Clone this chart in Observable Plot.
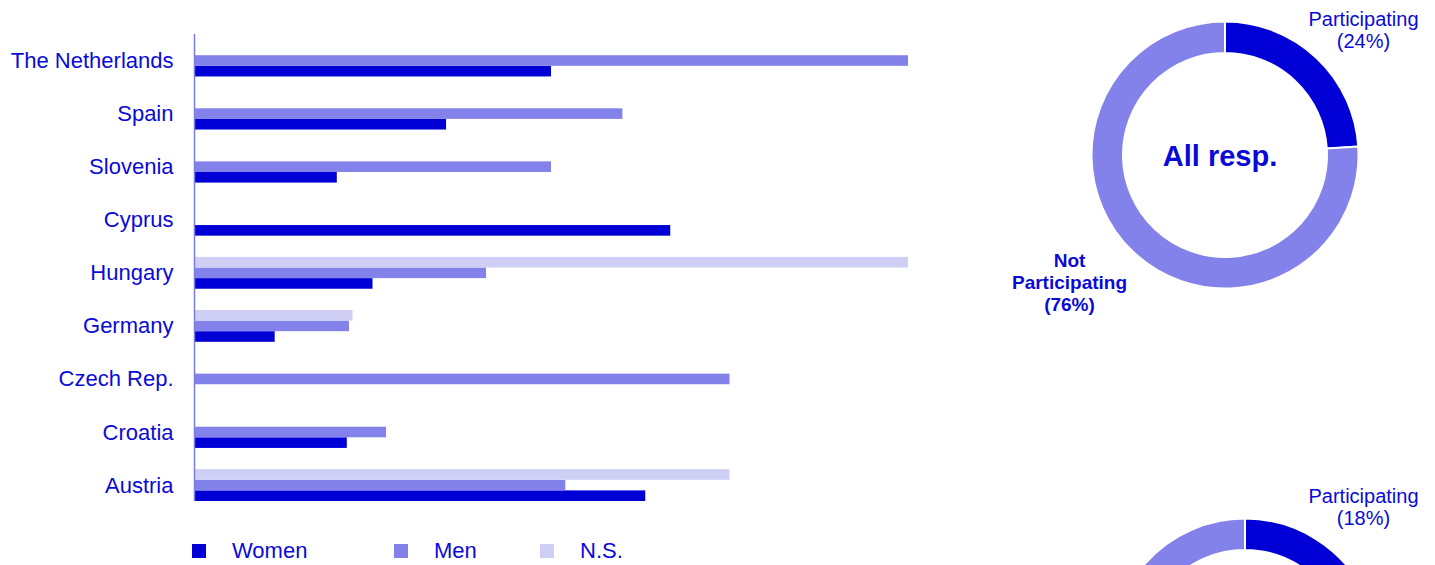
<!DOCTYPE html>
<html><head><meta charset="utf-8">
<script src="https://cdn.jsdelivr.net/npm/d3@7"></script>
<script src="https://cdn.jsdelivr.net/npm/@observablehq/plot@0.6"></script>
<style>
html,body{margin:0;padding:0;background:#fff;}
#wrap{position:relative;width:1435px;height:565px;overflow:hidden;font-family:"Liberation Sans",Arial,sans-serif;color:#0a0ad8;}
#bars{position:absolute;left:0;top:0;}
#donuts{position:absolute;left:990px;top:0;}
#legend{position:absolute;left:192px;top:538px;display:flex;font-size:22px;line-height:26px;}
.item{display:flex;align-items:center;}
.sw{width:14px;height:14px;margin-right:26px;flex:none;}
</style></head>
<body><div id="wrap"><div id="bars"></div><div id="donuts"></div><div id="legend"></div></div>
<script>
// ---- data ----
const countries = ["The Netherlands","Spain","Slovenia","Cyprus","Hungary","Germany","Czech Rep.","Croatia","Austria"];
const women = [50, 35.3, 20, 66.7, 25, 11.3, 0, 21.4, 63.2];
const men   = [100, 60, 50, 0, 40.9, 21.7, 75, 26.9, 52];
const ns    = [0, 0, 0, 0, 100, 22.2, 0, 0, 75];
const seriesNames = ["Women", "Men", "N.S."];
const seriesColors = ["#0000d6", "#8282ea", "#cfcff6"];

const donutTitles = ["All resp.", ""];
const participatingPct = [24, 18];
const sliceNames = ["Participating", "Not Participating"];

// ---- build rows ----
const seriesValues = {"Women": women, "Men": men, "N.S.": ns};
const rows = countries.flatMap((c, i) => seriesNames.map(s => ({country: c, series: s, value: seriesValues[s][i]})))
  .filter(d => d.value > 0);
const key = (c, s) => c + "|" + s;
const yDomain = countries.flatMap(c => [key(c, "_a"), key(c, "N.S."), key(c, "Men"), key(c, "Women"), key(c, "_b")]).slice(0, -1);

const textColor = "#0a0ad8";

const bars = Plot.plot({
  width: 960, height: 530,
  marginLeft: 194, marginRight: 52, marginTop: 34, marginBottom: 29,
  style: {fontFamily: "'Liberation Sans', Arial, sans-serif", fontSize: "22px", color: textColor, background: "transparent"},
  x: {domain: [0, 100], axis: null},
  y: {domain: yDomain, padding: 0, round: false, axis: "left", ticks: countries.map(c => key(c, "Men")),
      tickFormat: k => k.endsWith("|Men") ? k.split("|")[0] : "", tickSize: 0, tickPadding: 21, label: null},
  color: {domain: seriesNames, range: seriesColors},
  marks: [
    Plot.barX(rows, {x: "value", y: d => key(d.country, d.series), fill: "series"}),
    Plot.ruleX([0], {stroke: "#7c7ce8", strokeWidth: 1.5})
  ]
});
document.getElementById("bars").appendChild(bars);

// ---- legend ----
const legend = document.getElementById("legend");
const itemWidths = [202, 146, null];
seriesNames.forEach((s, i) => {
  const it = document.createElement("div");
  it.className = "item";
  if (itemWidths[i]) it.style.width = itemWidths[i] + "px";
  const sw = document.createElement("div");
  sw.className = "sw"; sw.style.background = seriesColors[i];
  const tx = document.createElement("span");
  tx.textContent = s;
  it.appendChild(sw); it.appendChild(tx);
  legend.appendChild(it);
});

// ---- donuts ----
const donutCenters = [[235, 155], [255, 652]];
const partLabelPos = [[373, 9.5], [373, 487]];
const notLabelPos = [[79, 250.5], null];   // second one lies below the visible area
const outerR = 133.5, innerR = 102;
function donutsMark() {
  const g = d3.create("svg:g");
  participatingPct.forEach((p, i) => {
    const [cx, cy] = donutCenters[i];
    const arcs = d3.pie().sort(null)([p, 100 - p]);
    const arc = d3.arc().innerRadius(innerR).outerRadius(outerR);
    g.append("g").attr("transform", `translate(${cx},${cy})`)
      .selectAll("path").data(arcs).join("path")
      .attr("d", arc)
      .attr("fill", (d, j) => j === 0 ? seriesColors[0] : seriesColors[1])
      .attr("stroke", "#fff").attr("stroke-width", 2);
  });
  return g.node();
}
const partRows = participatingPct.map((p, i) => ({x: partLabelPos[i][0], y: partLabelPos[i][1], text: `${sliceNames[0]}\n(${p}%)`}));
const notRows = participatingPct.map((p, i) => notLabelPos[i] ? {x: notLabelPos[i][0], y: notLabelPos[i][1], text: `Not\nParticipating\n(${100 - p}%)`} : null).filter(Boolean);
const titleRows = donutTitles.map((t, i) => ({x: donutCenters[i][0] - 5.5, y: donutCenters[i][1] + 1.7, text: t})).filter(d => d.text);

const donuts = Plot.plot({
  width: 445, height: 565, margin: 0,
  style: {fontFamily: "'Liberation Sans', Arial, sans-serif", color: textColor, background: "transparent"},
  x: {type: "identity", axis: null},
  y: {type: "identity", axis: null},
  marks: [
    donutsMark,
    Plot.text(partRows, {x: "x", y: "y", text: "text", lineAnchor: "top", lineHeight: 1.1, fontSize: 20, fill: textColor}),
    Plot.text(notRows, {x: "x", y: "y", text: "text", lineAnchor: "top", lineHeight: 1.16, fontSize: 19, fontWeight: "bold", fill: textColor}),
    Plot.text(titleRows, {x: "x", y: "y", text: "text", fontSize: 29, fontWeight: "bold", fill: textColor})
  ]
});
document.getElementById("donuts").appendChild(donuts);
</script>
</body></html>
